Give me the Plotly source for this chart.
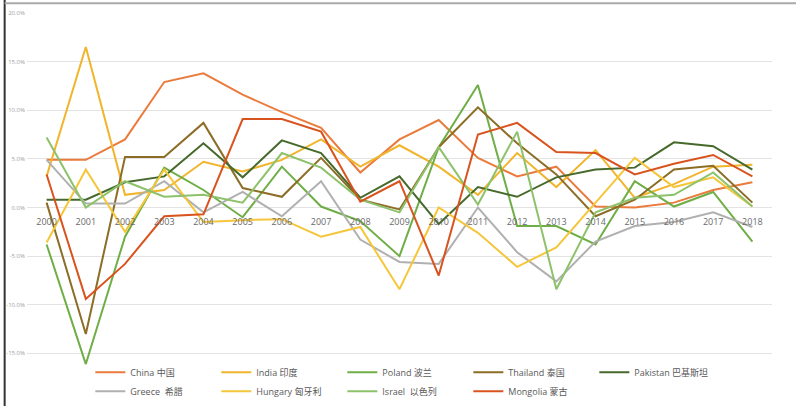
import plotly.graph_objects as go

years = [str(y) for y in range(2000, 2019)]

china    = [4.9, 4.9, 7.0, 12.9, 13.8, 11.6, 9.8, 8.2, 3.6, 7.0, 9.0, 5.1, 3.2, 4.2, 0.1, 0.0, 0.5, 1.8, 2.6]
india    = [3.2, 16.5, 1.3, 1.8, 4.7, 3.7, 4.9, 7.0, 4.2, 6.4, 4.2, 1.3, 5.6, 2.1, 5.9, 1.0, 2.4, 4.2, 4.4]
poland   = [-3.8, -16.1, -3.0, 4.1, 1.8, -1.0, 4.2, 0.1, -1.4, -5.0, 6.2, 12.6, -1.9, -1.9, -3.8, 2.7, 0.1, 1.6, -3.5]
thailand = [0.5, -13.0, 5.2, 5.2, 8.7, 2.0, 1.1, 5.1, 0.8, -0.2, 6.2, 10.3, 6.6, 3.4, -0.9, 0.8, 3.9, 4.3, 0.5]
pakistan = [0.8, 0.8, 2.6, 3.2, 6.6, 3.1, 6.9, 5.6, 1.0, 3.2, -1.7, 2.1, 1.1, 3.1, 3.9, 4.1, 6.7, 6.3, 3.9]
greece   = [4.9, 0.4, 0.4, 2.7, -0.5, 1.6, -0.9, 2.7, -3.3, -5.6, -5.8, 0.0, -4.6, -7.6, -3.5, -1.9, -1.5, -0.5, -2.0]
hungary  = [-3.6, 3.9, -2.5, 3.9, -1.5, -1.3, -1.2, -3.0, -2.0, -8.4, 0.0, -2.6, -6.1, -4.1, 0.5, 5.1, 2.1, 3.1, 0.1]
israel   = [7.2, 0.0, 2.7, 1.1, 1.3, 0.5, 5.6, 4.1, 0.8, -0.5, 6.2, 0.3, 7.8, -8.4, -0.5, 1.0, 1.3, 3.6, 0.1]
mongolia = [3.4, -9.4, -5.8, -0.9, -0.7, 9.1, 9.1, 7.8, 0.6, 2.7, -7.0, 7.5, 8.7, 5.7, 5.6, 3.4, 4.5, 5.4, 3.2]

y_ticks = [20, 15, 10, 5, 0, -5, -10, -15, -20]
y_labels = ["20.0%", "15.0%", "10.0%", "5.0%", "0.0%", "-5.0%", "-10.0%", "-15.0%", "-20.0%"]

series = [
    ("China 中国", china, "#EA7B3C"),
    ("India 印度", india, "#F0B52C"),
    ("Poland 波兰", poland, "#6FAE46"),
    ("Thailand 泰国", thailand, "#8C6D25"),
    ("Pakistan 巴基斯坦", pakistan, "#46692C"),
    ("Greece  希腊", greece, "#B0B0B0"),
    ("Hungary 匈牙利", hungary, "#F5C63A"),
    ("Israel  以色列", israel, "#8DC26B"),
    ("Mongolia 蒙古", mongolia, "#D9531E"),
]

fig = go.Figure()
for name, vals, col in series:
    fig.add_trace(go.Scatter(x=years, y=vals, mode="lines", name=name,
                             line=dict(color=col, width=2)))

font_family = "Open Sans, Noto Sans CJK SC, sans-serif"

fig.update_layout(
    width=796, height=406,
    margin=dict(l=27, r=24, t=13, b=4, autoexpand=False),
    paper_bgcolor="white", plot_bgcolor="white",
    font=dict(family=font_family, color="#707070", size=8),
    xaxis=dict(type="category", range=[-0.5, 18.5], showgrid=False, zeroline=False,
               showline=False, ticks="", anchor="free", position=0.482, automargin=False,
               tickfont=dict(size=9, color="#6a6a6a")),
    yaxis=dict(range=[-20, 20], tickvals=y_ticks, ticktext=y_labels, automargin=False,
               showgrid=True, gridcolor="#E3E3E3", gridwidth=1, zeroline=False,
               tickfont=dict(size=6, color="#A0A0A0"), ticklabelstandoff=1),
    legend=dict(orientation="h", x=0.085, y=0.114, xanchor="left", yanchor="top",
                bgcolor="rgba(0,0,0,0)", font=dict(size=9, color="#585858", family=font_family),
                itemwidth=30, entrywidth=81, tracegroupgap=0),
    showlegend=True,
)

fig.add_shape(type="line", xref="paper", yref="paper", x0=-0.030, x1=-0.030, y0=-0.02, y1=1.04,
              line=dict(color="#333333", width=2))
fig.add_shape(type="line", xref="paper", yref="paper", x0=-0.03, x1=1.04, y0=1.025, y1=1.025,
              line=dict(color="#AAAAAA", width=2))

fig.write_html("out.html", config={"displayModeBar": False},
               post_script="document.body.style.margin='0';document.body.style.overflow='hidden';")
